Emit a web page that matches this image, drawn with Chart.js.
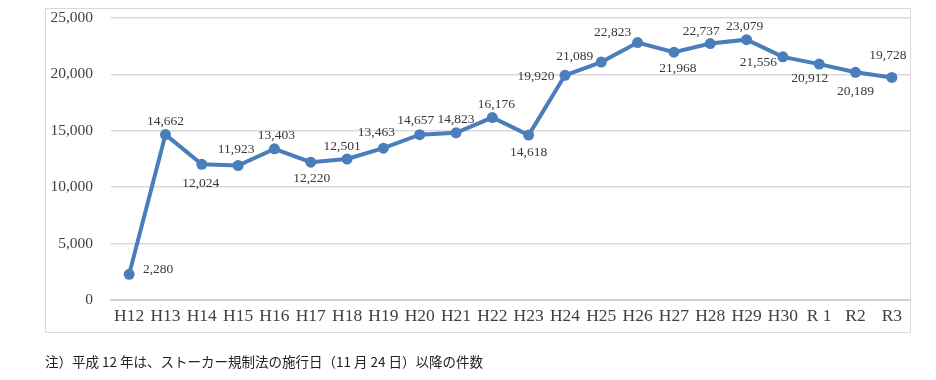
<!DOCTYPE html>
<html><head><meta charset="utf-8">
<script src="https://cdn.jsdelivr.net/npm/chart.js@4.4.0/dist/chart.umd.min.js"></script>
<style>
html,body{margin:0;padding:0;background:#fff;width:936px;height:380px;overflow:hidden;}
#wrap{position:absolute;left:0;top:0;width:936px;height:380px;}
#frame{position:absolute;left:45px;top:8px;width:866px;height:325px;border:1px solid #d9d9d9;box-sizing:border-box;}
#note{position:absolute;left:45px;top:351px;font-family:"Noto Sans CJK JP",sans-serif;font-size:13.5px;color:#222;white-space:nowrap;}
</style></head>
<body>
<div id="frame"></div>
<div id="wrap"><canvas id="c" width="936" height="380"></canvas></div>
<div id="note">注）平成 12 年は、ストーカー規制法の施行日（11 月 24 日）以降の件数</div>
<script>
const categories = ["H12","H13","H14","H15","H16","H17","H18","H19","H20","H21","H22","H23","H24","H25","H26","H27","H28","H29","H30","R 1","R2","R3"];
const counts = [2280,14662,12024,11923,13403,12220,12501,13463,14657,14823,16176,14618,19920,21089,22823,21968,22737,23079,21556,20912,20189,19728];
const yTicks = [0,5000,10000,15000,20000,25000];

// label offsets (style only): [dx, dy] of the text centre from its point
const labelOffsets = [[29,-5],[0,-13],[-1,19],[-2,-16],[2,-13],[1,16],[-5,-12.5],[-7,-15.5],[-4,-14.5],[0,-13.5],[4,-13],[0,17],[-29,1],[-26.5,-5.5],[-25,-10],[4,16],[-9,-12],[-2,-13],[-24.5,6],[-9.5,14.5],[0,19],[-4,-22]];

const fmt = v => v.toLocaleString('en-US');

const labelPlugin = {
  id:'dataLabels',
  afterDatasetsDraw(chart){
    const ctx = chart.ctx;
    const meta = chart.getDatasetMeta(0);
    ctx.save();
    ctx.font = '13.5px "Liberation Serif", serif';
    ctx.fillStyle = '#383838';
    ctx.textAlign = 'center';
    ctx.textBaseline = 'middle';
    meta.data.forEach((pt,i)=>{
      const [dx,dy] = labelOffsets[i];
      ctx.fillText(fmt(counts[i]), pt.x+dx, pt.y+dy);
    });
    ctx.restore();
  }
};

new Chart(document.getElementById('c'),{
  type:'line',
  data:{labels:categories,datasets:[{
    data:counts,
    borderColor:'#4a7ebb',
    backgroundColor:'#4a7ebb',
    borderWidth:4,
    pointRadius:5.5,
    pointHoverRadius:5.5,
    pointBackgroundColor:'#4a7ebb',
    pointBorderColor:'#4a7ebb',
    pointBorderWidth:0,
    tension:0
  }]},
  options:{
    responsive:false,
    animation:false,
    events:[],
    layout:{padding:{left:45,top:18,right:26,bottom:48}},
    plugins:{legend:{display:false},tooltip:{enabled:false}},
    scales:{
      x:{
        offset:true,
        grid:{display:false,drawTicks:false},
        border:{display:true,color:'#d0d0d0',width:2},
        ticks:{color:'#404040',font:{family:'"Liberation Serif", serif',size:17.5},padding:6,maxRotation:0,autoSkip:false},
        afterFit(s){s.height=32; s.paddingLeft=0; s.paddingRight=0;}
      },
      y:{
        min:0,max:25000,
        afterBuildTicks(s){s.ticks = yTicks.map(v=>({value:v}));},
        grid:{color:'#d9d9d9',lineWidth:1.5,drawTicks:false},
        border:{display:false},
        ticks:{color:'#404040',font:{family:'"Liberation Serif", serif',size:15.5},padding:18,callback:v=>fmt(v)},
        afterFit(s){s.width=66; s.paddingTop=0; s.paddingBottom=0;}
      }
    }
  },
  plugins:[labelPlugin]
});
</script>
</body></html>
